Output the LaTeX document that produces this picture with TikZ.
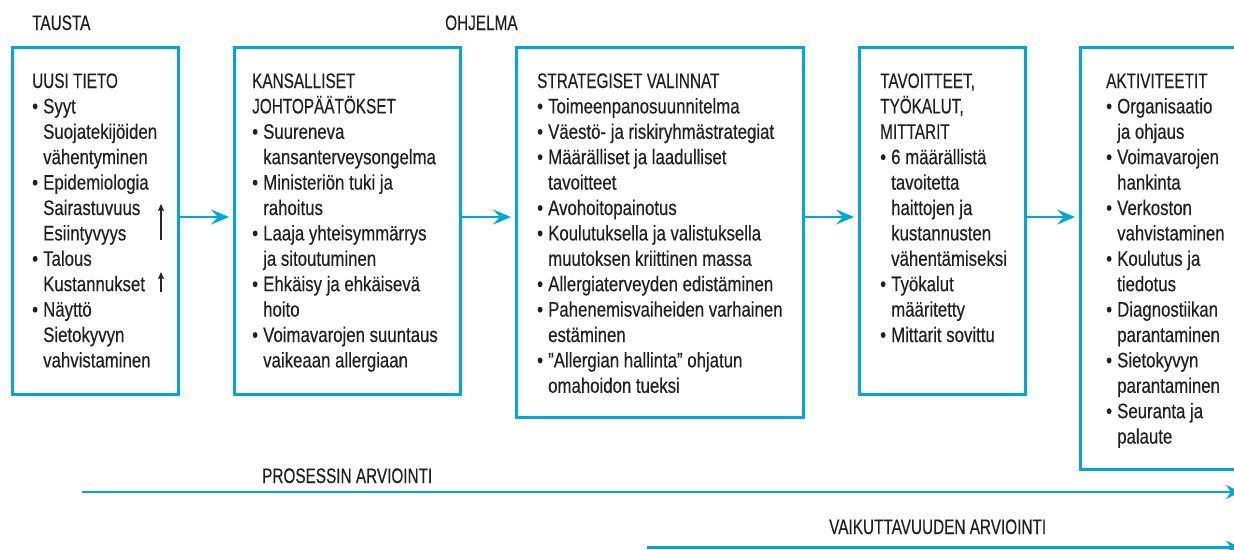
\documentclass[tikz,border=0pt]{standalone}
\usepackage{fontspec}
\setmainfont{Liberation Sans}[FakeStretch=0.8,FakeBold=0.35]
\newfontfamily\capsfont{Liberation Sans}[FakeStretch=0.73,FakeBold=0.35]
\usetikzlibrary{arrows.meta}
\definecolor{cyanline}{RGB}{0,168,212}
\definecolor{inktext}{RGB}{35,31,32}
\newcommand\hitem[1]{\hbox{\capsfont #1}}
\newcommand\bitem[1]{\hbox{\makebox[11pt][l]{•}#1}}
\newcommand\citem[1]{\hbox{\hspace*{11pt}#1}}
\newcommand\boxtext[1]{\vtop{\baselineskip=25.4pt #1}}
\tikzset{
  box/.style={draw=cyanline, line width=2.6pt, anchor=north west, inner sep=0pt},
  txt/.style={anchor=base west, inner sep=0pt, text=inktext, font=\fontsize{21}{25.4}\selectfont},
  lbl/.style={anchor=base west, inner sep=0pt, text=inktext, font=\fontsize{21}{25.4}\selectfont\capsfont},
  conn/.style={draw=cyanline, line width=2.6pt, -{Stealth[length=18pt,width=15pt,inset=7pt]}, shorten >=4pt},
  longarrow/.style={draw=cyanline, line width=2.8pt, -{Stealth[length=14pt,width=14pt,inset=5pt]}},
  trend/.style={draw=black!85, line width=1.2pt, -{Stealth[length=7pt,width=6pt,inset=1pt]}}
}
\begin{document}
\begin{tikzpicture}[x=1pt,y=-1pt]
\useasboundingbox (0,0) rectangle (1234,549);
\clip (0,0) rectangle (1234,549);
\fill[white] (0,0) rectangle (1234,549);

% column titles
\node[lbl] (tausta) at (32,30) {TAUSTA};
\node[lbl] (ohjelma) at (445,30) {OHJELMA};

% boxes
\node[box, minimum width=166pt, minimum height=347pt] (b1) at (11,46) {};
\node[box, minimum width=226pt, minimum height=347pt] (b2) at (233,46) {};
\node[box, minimum width=287pt, minimum height=370pt] (b3) at (515,46) {};
\node[box, minimum width=166pt, minimum height=347pt] (b4) at (858,46) {};
\node[box, minimum width=200pt, minimum height=422pt] (b5) at (1079,46) {};

% box texts
\node[txt] (t1) at (32,88) {\boxtext{%
  \hitem{UUSI TIETO}
  \bitem{Syyt}
  \citem{Suojatekijöiden}
  \citem{vähentyminen}
  \bitem{Epidemiologia}
  \citem{Sairastuvuus}
  \citem{Esiintyvyys}
  \bitem{Talous}
  \citem{Kustannukset}
  \bitem{Näyttö}
  \citem{Sietokyvyn}
  \citem{vahvistaminen}}};

\node[txt] (t2) at (252,88) {\boxtext{%
  \hitem{KANSALLISET}
  \hitem{JOHTOPÄÄTÖKSET}
  \bitem{Suureneva}
  \citem{kansanterveysongelma}
  \bitem{Ministeriön tuki ja}
  \citem{rahoitus}
  \bitem{Laaja yhteisymmärrys}
  \citem{ja sitoutuminen}
  \bitem{Ehkäisy ja ehkäisevä}
  \citem{hoito}
  \bitem{Voimavarojen suuntaus}
  \citem{vaikeaan allergiaan}}};

\node[txt] (t3) at (537,88) {\boxtext{%
  \hitem{STRATEGISET VALINNAT}
  \bitem{Toimeenpanosuunnitelma}
  \bitem{Väestö- ja riskiryhmästrategiat}
  \bitem{Määrälliset ja laadulliset}
  \citem{tavoitteet}
  \bitem{Avohoitopainotus}
  \bitem{Koulutuksella ja valistuksella}
  \citem{muutoksen kriittinen massa}
  \bitem{Allergiaterveyden edistäminen}
  \bitem{Pahenemisvaiheiden varhainen}
  \citem{estäminen}
  \bitem{”Allergian hallinta” ohjatun}
  \citem{omahoidon tueksi}}};

\node[txt] (t4) at (880,88) {\boxtext{%
  \hitem{TAVOITTEET,}
  \hitem{TYÖKALUT,}
  \hitem{MITTARIT}
  \bitem{6 määrällistä}
  \citem{tavoitetta}
  \citem{haittojen ja}
  \citem{kustannusten}
  \citem{vähentämiseksi}
  \bitem{Työkalut}
  \citem{määritetty}
  \bitem{Mittarit sovittu}}};

\node[txt] (t5) at (1106,88) {\boxtext{%
  \hitem{AKTIVITEETIT}
  \bitem{Organisaatio}
  \citem{ja ohjaus}
  \bitem{Voimavarojen}
  \citem{hankinta}
  \bitem{Verkoston}
  \citem{vahvistaminen}
  \bitem{Koulutus ja}
  \citem{tiedotus}
  \bitem{Diagnostiikan}
  \citem{parantaminen}
  \bitem{Sietokyvyn}
  \citem{parantaminen}
  \bitem{Seuranta ja}
  \citem{palaute}}};

% trend arrows in box 1
\coordinate (r1a) at (161,240);
\coordinate (r1b) at (161,204);
\coordinate (r2a) at (161,292);
\coordinate (r2b) at (161,272);
\draw[trend] (r1a) -- (r1b);
\draw[trend] (r2a) -- (r2b);

% connectors between boxes
\coordinate (ay) at (0,217);
\draw[conn] (b1.east |- ay) -- (b2.west |- ay);
\draw[conn] (b2.east |- ay) -- (b3.west |- ay);
\draw[conn] (b3.east |- ay) -- (b4.west |- ay);
\draw[conn] (b4.east |- ay) -- (b5.west |- ay);

% evaluation arrows
\node[lbl] (proc) at (262,483) {PROSESSIN ARVIOINTI};
\coordinate (p0) at (82,492);
\coordinate (p1) at (1240,492);
\draw[longarrow] (p0) -- (p1);

\node[lbl] (vaik) at (829,534) {VAIKUTTAVUUDEN ARVIOINTI};
\coordinate (v0) at (647,547.5);
\coordinate (v1) at (1240,547.5);
\draw[longarrow] (v0) -- (v1);
\end{tikzpicture}
\end{document}
